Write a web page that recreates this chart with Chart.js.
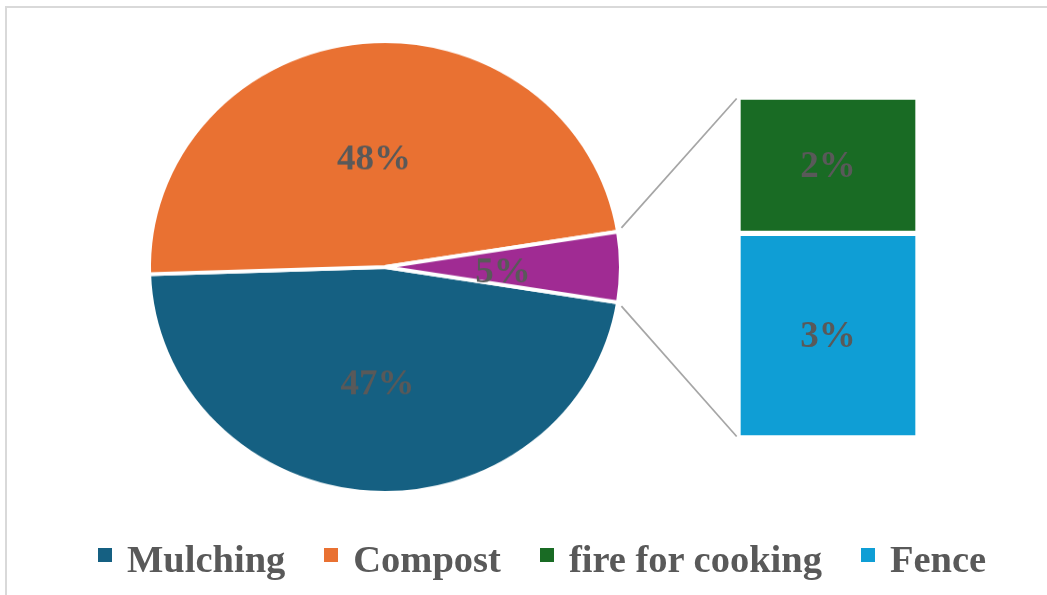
<!DOCTYPE html>
<html><head><meta charset="utf-8">
<script src="https://cdn.jsdelivr.net/npm/chart.js@4.4.1/dist/chart.umd.min.js"></script>
<style>
html,body{margin:0;padding:0;background:#fff;width:1047px;height:595px;overflow:hidden;}
#frame{position:absolute;left:5px;top:6px;width:2000px;height:2000px;border:2px solid #d9d9d9;}
canvas{position:absolute;left:0;top:0;}
#pie{transform-origin:385px 267px;transform:scaleY(0.957);}
#legend{position:absolute;left:98px;top:540px;display:flex;align-items:center;font:bold 38.5px 'Liberation Serif','Times New Roman',serif;line-height:38px;color:#595959;white-space:nowrap;}
.item{display:flex;align-items:center;margin-right:39px;}
.sw{width:14px;height:14px;margin-right:15px;position:relative;top:-4px;}
</style></head>
<body>
<div id="frame"></div>
<canvas id="pie" width="1047" height="595"></canvas>
<canvas id="bar" width="1047" height="595"></canvas>
<div id="legend"></div>
<script>
const pieLabels = ['Mulching', 'Compost', 'Other'];
const pieValues = [47, 48, 5];
const pieColors = ['#156082', '#E97132', '#A02B93'];
const barLabels = ['fire for cooking', 'Fence'];
const barValues = [2, 3];
const barColors = ['#196B24', '#0F9ED5'];
const legendLabels = ['Mulching', 'Compost', 'fire for cooking', 'Fence'];
const legendColors = ['#156082', '#E97132', '#196B24', '#0F9ED5'];

const PIE_SY = 0.957; // vertical squash of the pie canvas (matches CSS)
const LABEL_FONT = "bold 37px 'Liberation Serif', 'Times New Roman', serif";
const LABEL_COLOR = '#595959';

const pieLabelPlugin = {
  id: 'pieLabels',
  afterDatasetsDraw(chart) {
    const ctx = chart.ctx;
    const meta = chart.getDatasetMeta(0);
    ctx.save();
    ctx.font = LABEL_FONT;
    ctx.fillStyle = LABEL_COLOR;
    ctx.textAlign = 'center';
    ctx.textBaseline = 'middle';
    meta.data.forEach((arc, i) => {
      const p = arc.getProps(['x', 'y', 'startAngle', 'endAngle', 'outerRadius'], true);
      const mid = (p.startAngle + p.endAngle) / 2;
      const r = p.outerRadius * 0.5;
      ctx.fillText(pieValues[i] + '%', p.x + r * Math.cos(mid), p.y + r * Math.sin(mid) + 6);
    });
    ctx.restore();
  }
};

const pieChart = new Chart(document.getElementById('pie'), {
  type: 'pie',
  data: {
    labels: pieLabels,
    datasets: [{
      data: pieValues,
      backgroundColor: pieColors,
      borderColor: '#ffffff',
      borderWidth: 4
    }]
  },
  options: {
    responsive: false,
    animation: false,
    rotation: 99,
    layout: { padding: { left: 147, right: 424, top: 29, bottom: 90 } },
    plugins: { legend: { display: false }, tooltip: { enabled: false } }
  },
  plugins: [pieLabelPlugin]
});

const barOrder = [1, 0]; // Fence at bottom, fire for cooking on top
const barLabelPlugin = {
  id: 'barLabels',
  afterDatasetsDraw(chart) {
    const ctx = chart.ctx;
    ctx.save();
    ctx.font = LABEL_FONT;
    ctx.fillStyle = LABEL_COLOR;
    ctx.textAlign = 'center';
    ctx.textBaseline = 'middle';
    chart.data.datasets.forEach((ds, di) => {
      const el = chart.getDatasetMeta(di).data[0];
      const p = el.getProps(['x', 'y', 'base'], true);
      ctx.fillText(ds.data[0] + '%', p.x, (p.y + p.base) / 2 + 2);
    });
    ctx.restore();
  }
};
const connectorPlugin = {
  id: 'connectors',
  afterDraw(chart) {
    const arc = pieChart.getDatasetMeta(0).data[2];
    const a = arc.getProps(['x', 'y', 'startAngle', 'endAngle', 'outerRadius'], true);
    const topEl = chart.getDatasetMeta(1).data[0].getProps(['x', 'y', 'base', 'width'], true);
    const botEl = chart.getDatasetMeta(0).data[0].getProps(['x', 'y', 'base', 'width'], true);
    const pairs = [
      [a.startAngle, topEl.x - topEl.width / 2, topEl.y],
      [a.endAngle, botEl.x - botEl.width / 2, botEl.base]
    ];
    const ctx = chart.ctx;
    ctx.save();
    ctx.strokeStyle = '#a6a6a6';
    ctx.lineWidth = 1.75;
    pairs.forEach(([ang, ex, ey]) => {
      const sx = a.x + a.outerRadius * Math.cos(ang);
      const sy = a.y + a.outerRadius * Math.sin(ang) * PIE_SY;
      const dx = ex - sx, dy = ey - sy;
      const len = Math.hypot(dx, dy);
      const ux = dx / len, uy = dy / len;
      ctx.beginPath();
      ctx.moveTo(sx + ux * 5, sy + uy * 5);
      ctx.lineTo(ex - ux * 2, ey - uy * 2);
      ctx.stroke();
    });
    ctx.restore();
  }
};

const barChart = new Chart(document.getElementById('bar'), {
  type: 'bar',
  data: {
    labels: ['Other'],
    datasets: barOrder.map(i => ({
      label: barLabels[i],
      data: [barValues[i]],
      backgroundColor: barColors[i],
      borderColor: '#ffffff',
      borderWidth: 3,
      borderSkipped: false,
      barPercentage: 1,
      categoryPercentage: 1
    }))
  },
  options: {
    responsive: false,
    animation: false,
    layout: { padding: { left: 738, right: 129, top: 97, bottom: 157 } },
    scales: {
      x: { stacked: true, display: false },
      y: { stacked: true, display: false, min: 0, max: barValues.reduce((s, v) => s + v, 0) }
    },
    plugins: { legend: { display: false }, tooltip: { enabled: false } }
  },
  plugins: [barLabelPlugin, connectorPlugin]
});

const legend = document.getElementById('legend');
legendLabels.forEach((lab, i) => {
  const item = document.createElement('div');
  item.className = 'item';
  const sw = document.createElement('span');
  sw.className = 'sw';
  sw.style.background = legendColors[i];
  const tx = document.createElement('span');
  tx.textContent = lab;
  item.appendChild(sw);
  item.appendChild(tx);
  legend.appendChild(item);
});
</script>
</body></html>
